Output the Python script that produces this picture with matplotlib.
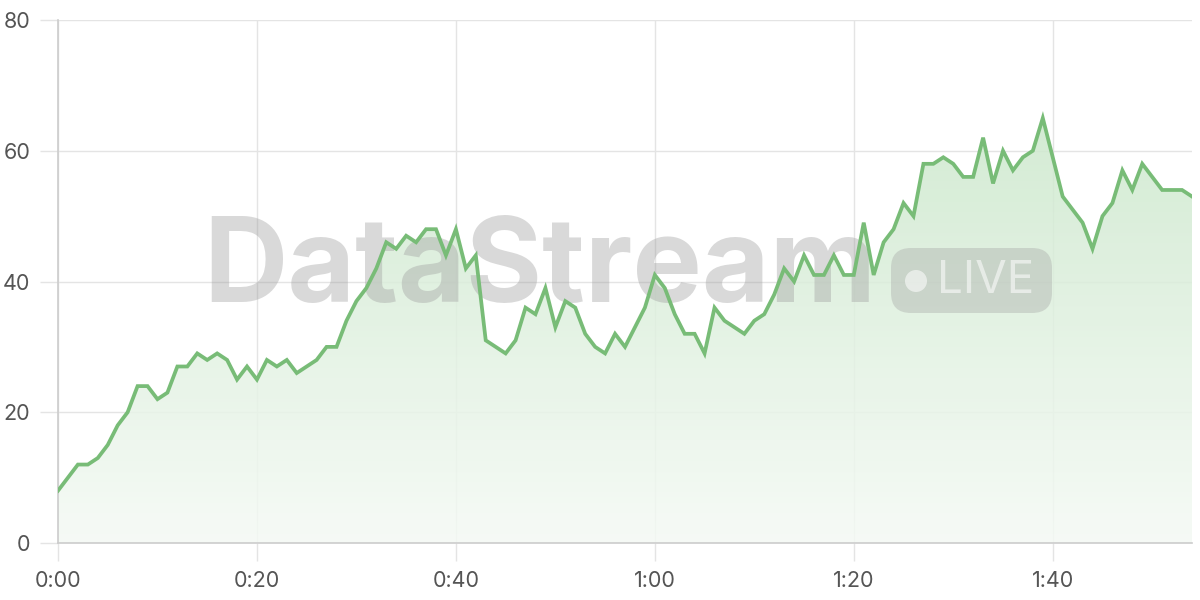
import numpy as np
import matplotlib
matplotlib.use("Agg")
import matplotlib.pyplot as plt
from matplotlib.patches import FancyBboxPatch, Circle
from matplotlib.colors import LinearSegmentedColormap
from matplotlib.transforms import Affine2D

seconds = list(range(115))
values = [8, 10, 12, 12, 13, 15, 18, 20, 24, 24,
          22, 23, 27, 27, 29, 28, 29, 28, 25, 27,
          25, 28, 27, 28, 26, 27, 28, 30, 30, 34,
          37, 39, 42, 46, 45, 47, 46, 48, 48, 44,
          48, 42, 44, 31, 30, 29, 31, 36, 35, 39,
          33, 37, 36, 32, 30, 29, 32, 30, 33, 36,
          41, 39, 35, 32, 32, 29, 36, 34, 33, 32,
          34, 35, 38, 42, 40, 44, 41, 41, 44, 41,
          41, 49, 41, 46, 48, 52, 50, 58, 58, 59,
          58, 56, 56, 62, 55, 60, 57, 59, 60, 65,
          59, 53, 51, 49, 45, 50, 52, 57, 54, 58,
          56, 54, 54, 54, 53]
x_ticks = [0, 20, 40, 60, 80, 100]
x_tick_labels = ["0:00", "0:20", "0:40", "1:00", "1:20", "1:40"]
y_ticks = [0, 20, 40, 60, 80]

line_color = "#78bc77"
text_color = "#555555"

fig = plt.figure(figsize=(12, 6), dpi=100)
ax = fig.add_axes([58/1200, 57/600, (1192-58)/1200, 523/600])
ax.set_xlim(0, 114)
ax.set_ylim(0, 80)

# pixel transform (origin top-left)
px = Affine2D().scale(1/1200, -1/600).translate(0, 1) + fig.transFigure

# gradient fill under the line
xs = np.array(seconds)
ys = np.array(values)
poly = ax.fill_between(xs, ys, 0, color="none", zorder=1)
cmap = LinearSegmentedColormap.from_list("g", [(0.96, 0.98, 0.96, 1.0), (0.80, 0.91, 0.80, 1.0)])
grad = np.linspace(0, 1, 256).reshape(-1, 1)
img = ax.imshow(grad, extent=[0, 114, 0, 65], origin="lower", aspect="auto",
                cmap=cmap, zorder=1, alpha=0.85)
path = poly.get_paths()[0]
img.set_clip_path(path, transform=ax.transData)

# watermark
ax.text(203, 271, "DataStream", transform=px,
        fontsize=84, fontweight="bold", family="Inter",
        color="#a0a0a0", alpha=0.4, ha="left", va="center", zorder=2, clip_on=False)
badge = FancyBboxPatch((891, 248), 1052-891, 313-248,
                       boxstyle="round,pad=0,rounding_size=20",
                       transform=px, facecolor="#a0a0a0", alpha=0.35,
                       edgecolor="none", zorder=2, clip_on=False)
ax.add_patch(badge)
ax.add_patch(Circle((916, 281), 11, transform=px, facecolor="white", alpha=0.55,
                    edgecolor="none", zorder=3, clip_on=False))
ax.text(937, 281, "LIVE", transform=px, fontsize=33, family="Inter",
        color="white", alpha=0.55, ha="left", va="center", zorder=3, clip_on=False)

ax.plot(xs, ys, color=line_color, linewidth=2.7, zorder=4, solid_joinstyle="miter")

ax.set_xticks(x_ticks)
ax.set_xticklabels(x_tick_labels)
ax.set_yticks(y_ticks)
ax.grid(True, color="#e4e4e4", linewidth=1)
ax.set_axisbelow(True)
for s in ["top", "right"]:
    ax.spines[s].set_visible(False)
for s in ["left", "bottom"]:
    ax.spines[s].set_color("#cccccc")
    ax.spines[s].set_linewidth(1.2)
ax.tick_params(axis="both", colors="#e4e4e4", labelcolor=text_color, labelsize=15.5,
               length=13, width=1)
ax.tick_params(axis="y", pad=7)
ax.tick_params(axis="x", pad=7)
for lab in ax.get_xticklabels() + ax.get_yticklabels():
    lab.set_family("Inter")

fig.savefig("out.png", dpi=100)
